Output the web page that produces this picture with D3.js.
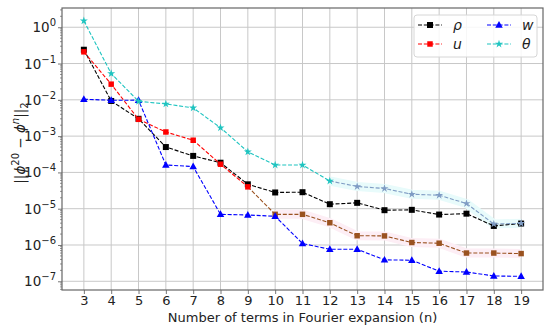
<!DOCTYPE html>
<html><head><meta charset="utf-8">
<script src="https://cdn.jsdelivr.net/npm/d3@7"></script>
<style>body{margin:0;background:#fff}svg{display:block;font-family:"DejaVu Sans",sans-serif}</style>
</head><body><svg id="c" width="550" height="328"></svg>
<script>
const nVals = [3,4,5,6,7,8,9,10,11,12,13,14,15,16,17,18,19];
const rho   = [0.24,0.0093,0.003,5.0e-4,2.85e-4,1.85e-4,4.7e-5,2.8e-5,2.85e-5,1.33e-5,1.45e-5,9.1e-6,9.3e-6,6.9e-6,7.3e-6,3.35e-6,3.9e-6];
const uVals = [0.21,0.027,0.0029,1.3e-3,7.7e-4,1.68e-4,4.0e-5,7.0e-6,7.0e-6,4.1e-6,1.8e-6,1.78e-6,1.17e-6,1.12e-6,6.0e-7,6.0e-7,5.8e-7];
const wVals = [0.0104,0.0097,0.0098,1.6e-4,1.45e-4,7.0e-6,6.7e-6,6.2e-6,1.1e-6,7.6e-7,7.6e-7,3.9e-7,3.8e-7,1.9e-7,1.8e-7,1.4e-7,1.37e-7];
const theta = [1.5,0.053,0.0091,0.0077,0.006,1.7e-3,3.7e-4,1.6e-4,1.6e-4,5.8e-5,4.1e-5,3.6e-5,2.5e-5,2.35e-5,1.39e-5,3.8e-6,3.95e-6];
const yTickExps = [0,-1,-2,-3,-4,-5,-6,-7];
const seriesNames = ["ρ","u","w","θ"];

const svg = d3.select("#c");
const L=62,R=543,T=8,B=290;
const x = d3.scaleLinear().domain([2.2,19.8]).range([L,R]);
const y = d3.scaleLog().domain([Math.pow(10,-7.24),Math.pow(10,0.53)]).range([B,T]);

// grid
const g = svg.append("g");
g.selectAll(".gx").data(nVals).join("line").attr("x1",d=>x(d)).attr("x2",d=>x(d)).attr("y1",T).attr("y2",B).attr("stroke","#c8c8c8").attr("stroke-width",1);
g.selectAll(".gy").data(yTickExps).join("line").attr("x1",L).attr("x2",R).attr("y1",d=>y(Math.pow(10,d))).attr("y2",d=>y(Math.pow(10,d))).attr("stroke","#c8c8c8").attr("stroke-width",1);

// axes
const xAxis = d3.axisBottom(x).tickValues(nVals).tickSize(4).tickPadding(2).tickFormat(d3.format("d"));
const xg = svg.append("g").attr("transform",`translate(0,${B})`).call(xAxis);
xg.select(".domain").remove();
xg.selectAll("line").attr("stroke","#777");
xg.selectAll("text").attr("font-size",13).attr("fill","#222").attr("font-family","DejaVu Sans");

const minor=[];
for(let e=-8;e<=0;e++) for(let k=2;k<=9;k++){const v=k*Math.pow(10,e); if(v>y.domain()[0]&&v<y.domain()[1]) minor.push(v);}
svg.append("g").selectAll("line").data(minor).join("line").attr("x1",L-2).attr("x2",L).attr("y1",d=>y(d)).attr("y2",d=>y(d)).attr("stroke","#777").attr("stroke-width",0.8);
const yAxis = d3.axisLeft(y).tickValues(yTickExps.map(e=>Math.pow(10,e))).tickSize(4).tickFormat("");
const yg = svg.append("g").attr("transform",`translate(${L},0)`).call(yAxis);
yg.select(".domain").remove();
yg.selectAll("line").attr("stroke","#777");
const yl = svg.append("g").selectAll("text").data(yTickExps).join("text")
  .attr("x",L-6).attr("y",d=>y(Math.pow(10,d))+5).attr("text-anchor","end").attr("font-size",13.5).attr("fill","#222");
yl.each(function(d){const t=d3.select(this); t.append("tspan").text("10"); t.append("tspan").attr("dy",-6).attr("font-size",10).text(d===0?"0":"−"+(-d));});

// frame
svg.append("rect").attr("x",L).attr("y",T).attr("width",R-L).attr("height",B-T).attr("fill","none").attr("stroke","#666").attr("stroke-width",1.2);

// faint highlight underlay seen in reference
const line = d3.line().x(d=>x(d[0])).y(d=>y(d[1]));
const zip = a=>nVals.map((n,i)=>[n,a[i]]);
svg.append("path").attr("d",line(zip(uVals).slice(7))).attr("fill","none").attr("stroke","#fdeef5").attr("stroke-width",9);
svg.append("path").attr("d",line(zip(theta).slice(9))).attr("fill","none").attr("stroke","#e8fbfb").attr("stroke-width",9);

const dash="4,1.8";
function drawSeries(data,col,shape,size,col2,splitIdx){
  const pts=zip(data);
  if(splitIdx==null){
    svg.append("path").attr("d",line(pts)).attr("fill","none").attr("stroke",col).attr("stroke-width",1.1).attr("stroke-dasharray",dash);
  } else {
    svg.append("path").attr("d",line(pts.slice(0,splitIdx+1))).attr("fill","none").attr("stroke",col).attr("stroke-width",1.1).attr("stroke-dasharray",dash);
    svg.append("path").attr("d",line(pts.slice(splitIdx))).attr("fill","none").attr("stroke",col2).attr("stroke-width",1.1).attr("stroke-dasharray",dash);
  }
  svg.append("g").selectAll("path").data(pts).join("path")
    .attr("transform",d=>`translate(${x(d[0])},${y(d[1])})`)
    .attr("d",d3.symbol().type(shape).size(size))
    .attr("fill",(d,i)=>(splitIdx!=null&&i>splitIdx)?col2:col);
}
const tri = {draw(ctx,s){const r=Math.sqrt(s)/1.6;ctx.moveTo(0,-r);ctx.lineTo(r*0.95,r*0.7);ctx.lineTo(-r*0.95,r*0.7);ctx.closePath();}};
drawSeries(rho,"#000000",d3.symbolSquare,36);
drawSeries(uVals,"#ff0000",d3.symbolSquare,30,"#9a5220",6);
drawSeries(wVals,"#0000ff",tri,40);
drawSeries(theta,"#1ec4c0",d3.symbolStar,20,"#7f9cc4",9);

// legend
const lg = svg.append("g");
lg.append("rect").attr("x",414).attr("y",15).attr("width",123).attr("height",42).attr("rx",3).attr("fill","#fff").attr("fill-opacity",0.85).attr("stroke","#d6d6d6");
const legItems=[
  {name:seriesNames[0],col:"#000",shape:d3.symbolSquare,size:36,cx:418,cy:25},
  {name:seriesNames[1],col:"#ff0000",shape:d3.symbolSquare,size:30,cx:418,cy:44},
  {name:seriesNames[2],col:"#0000ff",shape:tri,size:40,cx:487,cy:25},
  {name:seriesNames[3],col:"#1ec4c0",shape:d3.symbolStar,size:20,cx:487,cy:44}];
legItems.forEach(it=>{
  lg.append("line").attr("x1",it.cx).attr("x2",it.cx+24).attr("y1",it.cy).attr("y2",it.cy).attr("stroke",it.col).attr("stroke-width",1.1).attr("stroke-dasharray",dash);
  lg.append("path").attr("transform",`translate(${it.cx+12},${it.cy})`).attr("d",d3.symbol().type(it.shape).size(it.size)).attr("fill",it.col);
  lg.append("text").attr("x",it.cx+35).attr("y",it.cy+5).attr("font-size",14).attr("font-style","italic").attr("fill","#222").text(it.name);
});

// axis labels
svg.append("text").attr("x",(L+R)/2).attr("y",322).attr("text-anchor","middle").attr("font-size",13).attr("fill","#222").text("Number of terms in Fourier expansion (n)");
const yt = svg.append("text").attr("transform","translate(25,143) rotate(-90)").attr("text-anchor","middle").attr("font-size",13.5).attr("fill","#222");
yt.append("tspan").text("||");
yt.append("tspan").attr("font-style","italic").text("ϕ");
yt.append("tspan").attr("dy",-6).attr("font-size",10).text("20");
yt.append("tspan").attr("dy",6).text(" − ");
yt.append("tspan").attr("font-style","italic").text("ϕ");
yt.append("tspan").attr("dy",-6).attr("font-size",10).attr("font-style","italic").text("n");
yt.append("tspan").attr("dy",6).text("||");
yt.append("tspan").attr("dy",3).attr("font-size",10).text("2");
</script></body></html>
